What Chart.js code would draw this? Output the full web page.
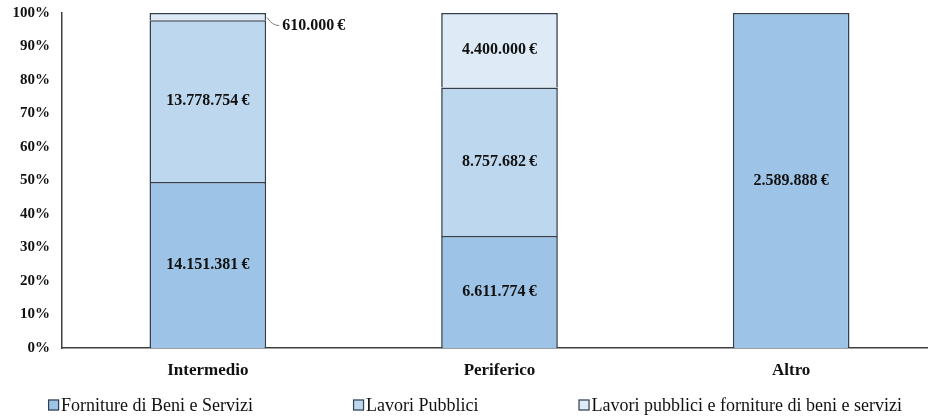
<!DOCTYPE html>
<html>
<head>
<meta charset="utf-8">
<script src="https://cdn.jsdelivr.net/npm/chart.js@4/dist/chart.umd.min.js"></script>
<style>
  html, body { margin: 0; padding: 0; background: #fff; overflow: hidden; }
  #StackChart { display: block; }
</style>
</head>
<body>
<canvas id="StackChart" width="940" height="418"></canvas>
<script>
// Importi per area e tipologia di affidamento (euro)
const areas = ["Intermedio", "Periferico", "Altro"];
const forniture = [14151381, 6611774, 2589888];
const lavori = [13778754, 8757682, null];
const misti = [610000, 4400000, null];
const yTicks = [0, 10, 20, 30, 40, 50, 60, 70, 80, 90, 100];

const seriesNames = [
    "Forniture di Beni e Servizi",
    "Lavori Pubblici",
    "Lavori pubblici e forniture di beni e servizi"
];
const seriesColors = ['#9dc3e6', '#bdd7ee', '#deebf7'];
const edgeColor = '#333f4f';
const fontFamily = '"Liberation Serif", "DejaVu Serif", serif';

// quota percentuale di ogni importo sul totale dell'area
const totals = areas.map((_, i) => (forniture[i] || 0) + (lavori[i] || 0) + (misti[i] || 0));
const share = arr => arr.map((v, i) => v == null ? null : v / totals[i] * 100);
const amounts = [forniture, lavori, misti];

const euro = v => v.toString().replace(/\B(?=(\d{3})+(?!\d))/g, '.') + '\u2009€';

// etichette con l'importo al centro di ogni segmento
const valueLabels = {
    id: 'valueLabels',
    afterDatasetsDraw(chart) {
        const ctx = chart.ctx;
        ctx.save();
        ctx.font = 'bold 16px ' + fontFamily;
        ctx.fillStyle = '#111';
        ctx.textBaseline = 'middle';
        chart.data.datasets.forEach((ds, di) => {
            const meta = chart.getDatasetMeta(di);
            meta.data.forEach((bar, j) => {
                const amount = amounts[di][j];
                if (!amount) return;
                const p = bar.getProps(['x', 'y', 'base', 'width']);
                const midY = (p.y + p.base) / 2;
                if (Math.abs(p.base - p.y) < 20) {
                    // segmento troppo sottile: etichetta a destra con linea di richiamo
                    const x0 = p.x + p.width / 2 + 1;
                    const ly = midY + 9;
                    ctx.strokeStyle = '#7f7f7f';
                    ctx.lineWidth = 1;
                    ctx.beginPath();
                    ctx.moveTo(x0, midY + 1);
                    ctx.quadraticCurveTo(x0 + 5, ly, x0 + 12, ly);
                    ctx.stroke();
                    ctx.textAlign = 'left';
                    ctx.fillText(euro(amount), x0 + 15, ly);
                } else {
                    ctx.textAlign = 'center';
                    ctx.fillText(euro(amount), p.x, midY);
                }
            });
        });
        ctx.restore();
    }
};

// legenda in basso con spaziatura larga tra le voci
const wideLegend = {
    id: 'wideLegend',
    afterDraw(chart) {
        const ctx = chart.ctx;
        const gap = 100, box = 11, center = 475, y = 405;
        ctx.save();
        ctx.font = '18px ' + fontFamily;
        ctx.textBaseline = 'middle';
        ctx.textAlign = 'left';
        const widths = chart.data.datasets.map(ds => box + 2 + ctx.measureText(ds.label).width);
        const total = widths.reduce((a, b) => a + b, 0) + gap * (widths.length - 1);
        let x = center - total / 2;
        chart.data.datasets.forEach((ds, i) => {
            ctx.fillStyle = ds.backgroundColor;
            ctx.fillRect(x, y - box / 2, box, box);
            ctx.strokeStyle = edgeColor;
            ctx.lineWidth = 1.2;
            ctx.strokeRect(x + 0.5, y - box / 2 + 0.5, box - 1, box - 1);
            ctx.fillStyle = '#111';
            ctx.fillText(ds.label, x + box + 2, y + 1);
            x += widths[i] + gap;
        });
        ctx.restore();
    }
};

// il lato inferiore non viene tracciato: tra due segmenti resta una sola linea
const datasets = [share(forniture), share(lavori), share(misti)].map((data, i) => ({
    label: seriesNames[i],
    data: data,
    backgroundColor: seriesColors[i],
    borderColor: edgeColor,
    borderWidth: 1.6,
    borderSkipped: 'bottom',
    barPercentage: 1,
    categoryPercentage: 0.4
}));

const ctx = document.getElementById('StackChart').getContext('2d');
let chart = new Chart(ctx, {
    type: 'bar',
    data: { labels: areas, datasets: datasets },
    options: {
        responsive: false,
        animation: false,
        layout: { padding: { top: 13, left: 10, right: 3, bottom: 35 } },
        plugins: {
            legend: { display: false },
            tooltip: { enabled: false }
        },
        scales: {
            x: {
                stacked: true,
                grid: { display: false, drawTicks: false },
                border: { display: true, color: '#404040', width: 1.5 },
                ticks: {
                    padding: 12,
                    color: '#111',
                    font: { family: fontFamily, size: 17, weight: 'bold' }
                },
                afterFit(scale) { scale.height = 35; }
            },
            y: {
                stacked: true,
                min: 0,
                max: 100,
                grid: { display: false, drawTicks: false },
                border: { display: true, color: '#404040', width: 1.5 },
                afterBuildTicks(scale) { scale.ticks = yTicks.map(v => ({ value: v })); },
                ticks: {
                    padding: 12,
                    color: '#111',
                    font: { family: fontFamily, size: 15, weight: 'bold' },
                    callback: v => v + '%'
                },
                afterFit(scale) {
                    scale.width = 52;
                    scale.paddingTop = 0;
                    scale.paddingBottom = 0;
                }
            }
        }
    },
    plugins: [valueLabels, wideLegend]
});
</script>
</body>
</html>
